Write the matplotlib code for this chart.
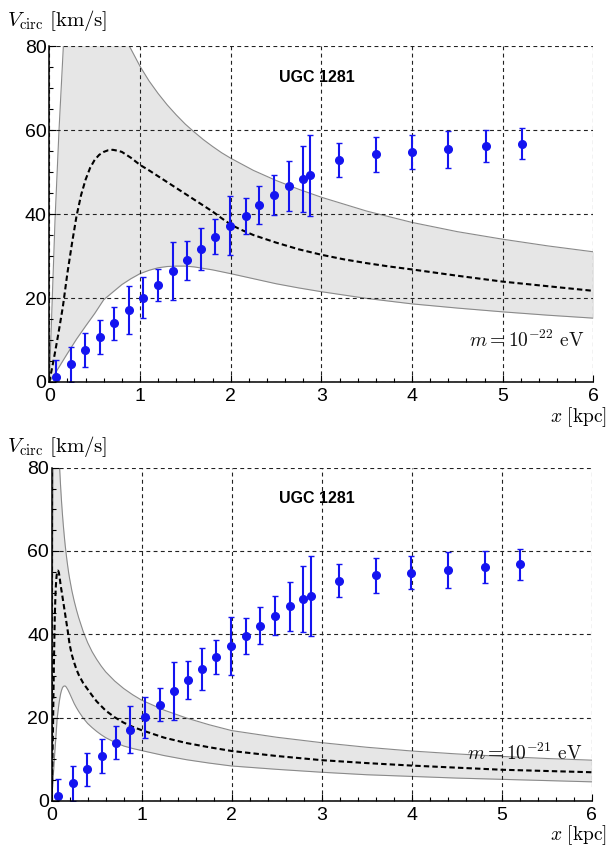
import matplotlib
matplotlib.use("Agg")
import matplotlib.pyplot as plt
import numpy as np
from matplotlib.ticker import MultipleLocator

plt.rcParams['mathtext.fontset'] = 'cm'
plt.rcParams['font.family'] = ['Liberation Sans', 'DejaVu Sans']

# ---------------- data ----------------
r_obs = [0.074, 0.239, 0.394, 0.555, 0.713, 0.875, 1.036, 1.202, 1.36, 1.515,
         1.669, 1.83, 1.992, 2.165, 2.315, 2.477, 2.646, 2.794, 2.878, 3.19,
         3.60, 3.995, 4.40, 4.815, 5.21]
v_obs = [1.3, 4.2, 7.6, 10.7, 14.0, 17.1, 20.1, 23.1, 26.4, 29.0,
         31.6, 34.6, 37.2, 39.5, 42.1, 44.5, 46.7, 48.4, 49.2, 52.9,
         54.2, 54.8, 55.4, 56.2, 56.8]
v_err = [3.9, 4.1, 4.0, 4.1, 3.9, 5.7, 4.9, 3.9, 6.9, 4.6,
         5.0, 4.1, 7.0, 4.3, 4.5, 4.7, 5.9, 7.9, 9.7, 4.0,
         4.2, 4.0, 4.4, 3.8, 3.7]

# ---- m = 1e-22 eV (top panel) ----
x22_mid = [0, 0.05, 0.1, 0.15, 0.2, 0.25, 0.3, 0.35, 0.4, 0.45, 0.5, 0.55, 0.6,
           0.65, 0.7, 0.75, 0.8, 0.9, 1.0, 1.1, 1.2, 1.3, 1.4, 1.5, 1.6, 1.7,
           1.8, 1.9, 2.0, 2.1, 2.25, 2.5, 2.75, 3.0, 3.25, 3.5, 3.75, 4.0, 4.5,
           5.0, 5.5, 6.0]
v22_mid = [0, 5.5, 11.5, 18, 26, 33, 39.5, 44.5, 48.2, 51.0, 52.9, 54.1, 54.8,
           55.2, 55.3, 55.1, 54.8, 53.4, 51.7, 50.4, 49.0, 47.6, 46.2, 44.8, 43.4, 42.0,
           40.6, 39.0, 37.5, 36.4, 35.0, 33.2, 31.6, 30.3, 29.2, 28.3, 27.5, 26.8, 25.3,
           23.9, 22.8, 21.7]
x22_hi = [0, 0.02, 0.063, 0.107, 0.155, 0.2, 0.3, 0.5, 0.7, 0.8, 0.882, 0.9, 1.0,
          1.1, 1.2, 1.3, 1.4, 1.5, 1.6, 1.7, 1.8, 1.9, 2.0, 2.25, 2.5, 2.75, 3.0,
          3.5, 4.0, 4.5, 5.0, 5.5, 6.0]
v22_hi = [0, 12, 38.6, 60, 80, 92, 100, 100, 90, 84, 80, 79.3, 75.2,
          71.7, 68.7, 66.0, 63.6, 61.4, 59.5, 57.7, 56.1, 54.6, 53.3, 50.4, 48.0, 45.9, 44.0,
          40.7, 38.0, 35.8, 34.0, 32.4, 31.0]
x22_lo = [0, 0.05, 0.1, 0.2, 0.3, 0.4, 0.5, 0.6, 0.7, 0.8, 0.9, 1.0, 1.1, 1.2,
          1.3, 1.4, 1.5, 1.6, 1.8, 2.0, 2.25, 2.5, 2.75, 3.0, 3.5, 4.0, 4.5, 5.0,
          5.5, 6.0]
v22_lo = [0, 1.6, 3.3, 6.8, 10.2, 13.3, 16.3, 19.6, 21.4, 23.2, 24.6, 25.8, 26.6, 27.2,
          27.5, 27.6, 27.6, 27.4, 26.7, 25.8, 24.6, 23.4, 22.4, 21.5, 19.9, 18.6, 17.6, 16.7,
          15.9, 15.2]

# ---- m = 1e-21 eV (bottom panel) ----
x21_mid = [0, 0.005, 0.01, 0.015, 0.02, 0.025, 0.03, 0.035, 0.04, 0.045, 0.05,
           0.055, 0.06, 0.065, 0.07, 0.075, 0.08, 0.09, 0.1, 0.11, 0.12, 0.13,
           0.14, 0.15, 0.16, 0.17, 0.18, 0.19, 0.2, 0.225, 0.25, 0.275, 0.3, 0.35,
           0.4, 0.45, 0.5, 0.55, 0.6, 0.7, 0.8, 0.9, 1.0, 1.25, 1.5, 1.75, 2.0,
           2.5, 3.0, 3.5, 4.0, 4.5, 5.0, 5.5, 6.0]
v21_mid = [0, 5.5, 11.5, 18, 26, 33, 39.5, 44.5, 48.2, 51.0, 52.9,
           54.1, 54.8, 55.2, 55.3, 55.1, 54.8, 53.4, 51.7, 50.4, 49.0, 47.6,
           46.2, 44.8, 43.4, 42.0, 40.6, 39.0, 37.5, 35.0, 33.2, 31.6, 30.3, 28.3,
           26.8, 25.3, 23.9, 22.8, 21.7, 20.1, 18.8, 17.8, 17.0, 15.2, 13.9, 12.9, 12.0,
           10.8, 9.8, 9.1, 8.5, 8.0, 7.5, 7.2, 6.9]
x21_hi = [0, 0.002, 0.0063, 0.0107, 0.0155, 0.02, 0.03, 0.05, 0.07, 0.08, 0.0882,
          0.09, 0.1, 0.11, 0.12, 0.13, 0.14, 0.15, 0.16, 0.17, 0.18, 0.19, 0.2,
          0.225, 0.25, 0.275, 0.3, 0.35, 0.4, 0.45, 0.5, 0.55, 0.6, 0.7, 0.8, 0.9,
          1.0, 1.25, 1.5, 1.75, 2.0, 2.5, 3.0, 3.5, 4.0, 4.5, 5.0, 5.5, 6.0]
v21_hi = [0, 12, 38.6, 60, 80, 92, 100, 100, 90, 84, 80,
          79.3, 75.2, 71.7, 68.7, 66.0, 63.6, 61.4, 59.5, 57.7, 56.1, 54.6, 53.3,
          50.4, 48.0, 45.9, 44.0, 40.7, 38.0, 35.8, 34.0, 32.4, 31.0, 28.8, 27.0, 25.5,
          24.2, 21.8, 19.9, 18.3, 16.9, 15.3, 14.0, 12.9, 12.0, 11.3, 10.7, 10.2, 9.8]
x21_lo = [0, 0.005, 0.01, 0.02, 0.03, 0.04, 0.05, 0.06, 0.07, 0.08, 0.09, 0.1,
          0.11, 0.12, 0.13, 0.14, 0.15, 0.16, 0.18, 0.2, 0.225, 0.25, 0.275, 0.3,
          0.35, 0.4, 0.45, 0.5, 0.55, 0.6, 0.7, 0.8, 0.9, 1.0, 1.25, 1.5, 1.75,
          2.0, 2.5, 3.0, 3.5, 4.0, 4.5, 5.0, 5.5, 6.0]
v21_lo = [0, 1.6, 3.3, 6.8, 10.2, 13.3, 16.3, 19.6, 21.4, 23.2, 24.6, 25.8,
          26.6, 27.2, 27.5, 27.6, 27.6, 27.4, 26.7, 25.8, 24.6, 23.4, 22.4, 21.5,
          19.9, 18.6, 17.6, 16.7, 15.9, 15.2, 14.1, 13.2, 12.6, 12.1, 10.9, 9.9, 9.1,
          8.4, 7.6, 6.9, 6.3, 5.9, 5.5, 5.2, 4.9, 4.6]

galaxy = "UGC 1281"
mass_labels = [r'$m = 10^{-22}\ \mathrm{eV}$', r'$m = 10^{-21}\ \mathrm{eV}$']
xticks = [0, 1, 2, 3, 4, 5, 6]
yticks = [0, 20, 40, 60, 80]

# ---------------- figure ----------------
fig = plt.figure(figsize=(6.08, 8.46), dpi=100)
ax_top = fig.add_axes([0.0811, 0.5485, 0.895, 0.397])
ax_bot = fig.add_axes([0.0850, 0.0532, 0.888, 0.394])

panels = [
    (ax_top, x22_mid, v22_mid, x22_hi, v22_hi, x22_lo, v22_lo, mass_labels[0], 10.0),
    (ax_bot, x21_mid, v21_mid, x21_hi, v21_hi, x21_lo, v21_lo, mass_labels[1], 11.5),
]

blue = '#1414f0'

for ax, xm, vm, xh, vh, xl, vl, mlab, mly in panels:
    xs = sorted(set(xh) | set(xl))
    hi = np.interp(xs, xh, vh)
    lo = np.interp(xs, xl, vl)
    ax.fill_between(xs, lo, hi, color='#e6e6e6', lw=0, zorder=1)
    ax.plot(xh, vh, color='#8a8a8a', lw=0.8, zorder=1.2)
    ax.plot(xl, vl, color='#8a8a8a', lw=0.8, zorder=1.2)
    ax.plot(xm, vm, color='black', lw=1.5, ls=(0, (2.6, 1.5)), zorder=2)
    ax.errorbar(r_obs, v_obs, yerr=v_err, fmt='o', color=blue, ms=5.5,
                elinewidth=1.5, capsize=2.2, capthick=1.0, zorder=3)

    ax.set_xlim(0, 6)
    ax.set_ylim(0, 80)
    ax.set_xticks(xticks)
    ax.set_yticks(yticks)
    ax.xaxis.set_minor_locator(MultipleLocator(0.2))
    ax.yaxis.set_minor_locator(MultipleLocator(5))
    ax.tick_params(which='both', direction='in', top=False, right=False,
                   labelsize=14, width=0.8)
    ax.tick_params(axis='x', which='major', pad=4)
    ax.tick_params(axis='y', which='major', pad=2)
    ax.tick_params(which='major', length=5)
    ax.tick_params(which='minor', length=3)
    ax.set_axisbelow('line')
    ax.grid(True, which='major', color='#222222', lw=0.8, ls=(0, (3.5, 3)))
    for s in ['top', 'right']:
        ax.spines[s].set_visible(False)
    for s in ['left', 'bottom']:
        ax.spines[s].set_linewidth(1.1)
        ax.spines[s].set_zorder(4)

    ax.text(2.95, 72.5, galaxy, ha='center', va='center', fontsize=11.5,
            fontweight='bold', family=['Liberation Sans', 'DejaVu Sans'])
    ax.text(5.9, mly, mlab, ha='right', va='center', fontsize=14, color='#111111')

fig.text(0.012, 0.976, r'$V_{\rm circ}\ [\mathrm{km/s}]$', ha='left', va='center', fontsize=15)
fig.text(0.012, 0.472, r'$V_{\rm circ}\ [\mathrm{km/s}]$', ha='left', va='center', fontsize=15)
fig.text(0.998, 0.5075, r'$x\ [\mathrm{kpc}]$', ha='right', va='center', fontsize=14)
fig.text(0.998, 0.0125, r'$x\ [\mathrm{kpc}]$', ha='right', va='center', fontsize=14)

fig.savefig('out.png', dpi=100)
